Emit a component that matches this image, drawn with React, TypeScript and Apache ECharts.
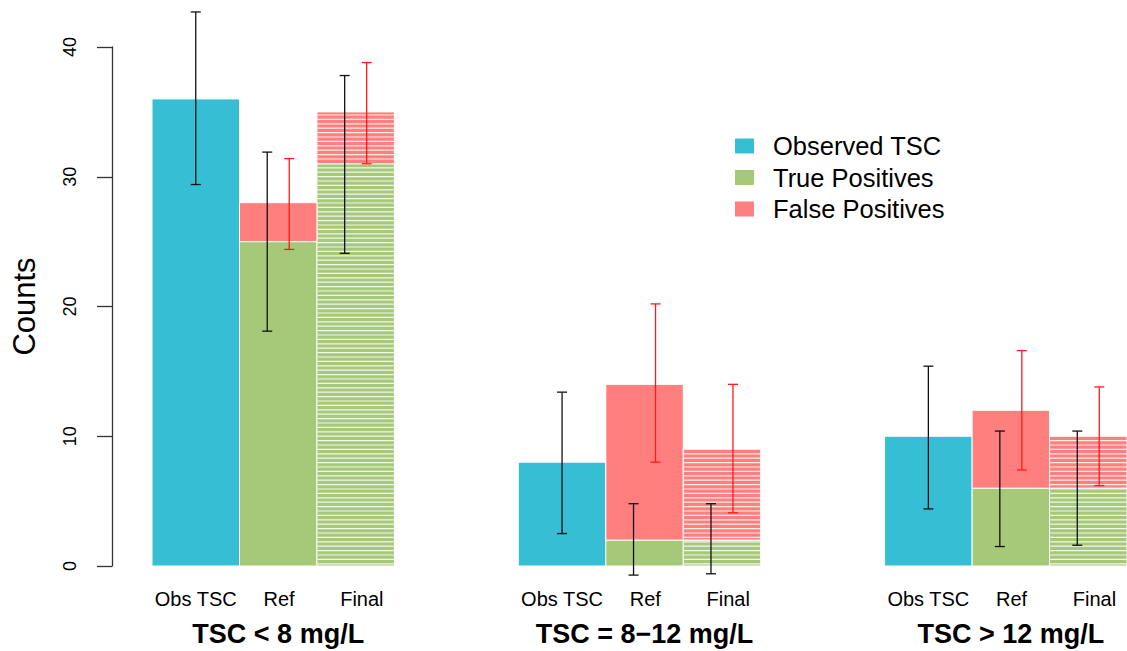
import React, { useEffect, useRef } from "react";
import * as echarts from "echarts";

// ---------- data ----------
const groupTitles = ["TSC < 8 mg/L", "TSC = 8\u221212 mg/L", "TSC > 12 mg/L"];
const barLabels = ["Obs TSC", "Ref", "Final"];
const yTicks = [0, 10, 20, 30, 40];

const observed = [36, 8, 10];
const observedLow = [29.4, 2.5, 4.4];
const observedHigh = [42.7, 13.4, 15.4];

const refTP = [25, 2, 6];
const refTotal = [28, 14, 12];
const finalTP = [31, 2, 6];
const finalTotal = [35, 9, 10];

const refTPLow = [18.1, -0.7, 1.5];
const refTPHigh = [31.9, 4.8, 10.4];
const refFPLow = [24.4, 8.0, 7.4];
const refFPHigh = [31.4, 20.2, 16.6];
const finalTPLow = [24.1, -0.6, 1.6];
const finalTPHigh = [37.8, 4.8, 10.4];
const finalFPLow = [31.0, 4.1, 6.2];
const finalFPHigh = [38.8, 14.0, 13.8];

// ---------- layout (in bar units) ----------
const OBS_W = 1.13;
const BAR_W = 1;
const GROUP_W = OBS_W + 2 * BAR_W;
const GAP = 1.6;
const X_MAX = 3 * GROUP_W + 2 * GAP;
const ERR_OFF = 0.142;
const LABEL_SHIFT = [0, 0.01, 0.08];

const C_OBS = "#35BED4";
const C_TP = "#A6C879";
const C_FP = "#FF7F7F";
const FONT = '"Liberation Sans", Arial, sans-serif';

function barStart(g: number, k: number) {
  return g * (GROUP_W + GAP) + (k === 0 ? 0 : OBS_W + (k - 1) * BAR_W);
}
function barWidth(k: number) {
  return k === 0 ? OBS_W : BAR_W;
}
function barCenter(g: number, k: number) {
  return barStart(g, k) + barWidth(k) / 2;
}

function hatch(x0: number, x1: number, yTop: number, yBot: number, yBase: number) {
  const out: any[] = [];
  for (let y = yBase - 2.2; y > yTop + 0.5; y -= 4.4) {
    if (y < yBot - 0.5) {
      out.push({
        type: "line",
        shape: { x1: x0 + 0.5, y1: y, x2: x1 - 0.5, y2: y },
        style: { stroke: "rgba(255,255,255,0.85)", lineWidth: 1.2 },
      });
    }
  }
  return out;
}

function segment(api: any, g: number, k: number, lo: number, hi: number, color: string) {
  const x0 = barStart(g, k);
  const w = barWidth(k);
  const pA = api.coord([x0, lo]);
  const pB = api.coord([x0 + w, hi]);
  const base = api.coord([0, 0])[1];
  const children: any[] = [
    {
      type: "rect",
      shape: { x: pA[0], y: pB[1], width: pB[0] - pA[0], height: pA[1] - pB[1] },
      style: { fill: color, stroke: "#ffffff", lineWidth: 1 },
    },
  ];
  if (k === 2) children.push(...hatch(pA[0], pB[0], pB[1], pA[1], base));
  return { type: "group", children };
}

export default function App() {
  const ref = useRef<HTMLDivElement>(null);

  useEffect(() => {
    if (!ref.current) return;
    const chart = echarts.init(ref.current, null, { renderer: "svg" });

    const obsData = observed.map((v, g) => [g, v]);
    const tpData: number[][] = [];
    const fpData: number[][] = [];
    for (let g = 0; g < 3; g++) {
      tpData.push([g, 1, refTP[g]]);
      tpData.push([g, 2, finalTP[g]]);
      fpData.push([g, 1, refTP[g], refTotal[g]]);
      fpData.push([g, 2, finalTP[g], finalTotal[g]]);
    }
    // [group, bar, side, low, high, colorKind]
    const errData: number[][] = [];
    for (let g = 0; g < 3; g++) {
      errData.push([g, 0, 0, observedLow[g], observedHigh[g], 0]);
      errData.push([g, 1, -1, refTPLow[g], refTPHigh[g], 0]);
      errData.push([g, 1, 1, refFPLow[g], refFPHigh[g], 1]);
      errData.push([g, 2, -1, finalTPLow[g], finalTPHigh[g], 0]);
      errData.push([g, 2, 1, finalFPLow[g], finalFPHigh[g], 1]);
    }

    const option: any = {
      animation: false,
      backgroundColor: "#ffffff",
      grid: { left: 152, right: 0, top: 47, bottom: 85 },
      legend: {
        orient: "vertical",
        left: 730,
        top: 128,
        itemWidth: 19,
        itemHeight: 15,
        itemGap: 5.5,
        icon: "rect",
        selectedMode: false,
        data: ["Observed TSC", "True Positives", "False Positives"],
        textStyle: {
          fontSize: 25.5,
          lineHeight: 25.5,
          fontFamily: FONT,
          color: "#000",
          padding: [0, 0, 0, 14],
        },
      },
      xAxis: { type: "value", min: 0, max: X_MAX, show: false },
      yAxis: {
        type: "value",
        min: 0,
        max: 40,
        interval: 10,
        offset: 40,
        name: "Counts",
        nameLocation: "middle",
        nameGap: 72,
        nameTextStyle: { fontSize: 31, fontFamily: FONT, color: "#000" },
        axisLine: { show: true, onZero: false, lineStyle: { color: "#333", width: 1.3 } },
        axisTick: { show: true, length: 15, lineStyle: { color: "#333", width: 1.3 } },
        axisLabel: {
          rotate: 90,
          fontSize: 18,
          margin: 33,
          fontFamily: FONT,
          color: "#000",
          formatter: (v: number) => (yTicks.includes(v) ? String(v) : ""),
        },
        splitLine: { show: false },
      },
      series: [
        {
          name: "Observed TSC",
          type: "custom",
          itemStyle: { color: C_OBS },
          data: obsData,
          renderItem: (params: any, api: any) =>
            segment(api, api.value(0), 0, 0, api.value(1), C_OBS),
        },
        {
          name: "True Positives",
          type: "custom",
          itemStyle: { color: C_TP },
          data: tpData,
          renderItem: (params: any, api: any) =>
            segment(api, api.value(0), api.value(1), 0, api.value(2), C_TP),
        },
        {
          name: "False Positives",
          type: "custom",
          itemStyle: { color: C_FP },
          data: fpData,
          renderItem: (params: any, api: any) =>
            segment(api, api.value(0), api.value(1), api.value(2), api.value(3), C_FP),
        },
        {
          name: "errors",
          type: "custom",
          data: errData,
          encode: { x: 0, y: 3 },
          renderItem: (params: any, api: any) => {
            const g = api.value(0);
            const k = api.value(1);
            const side = api.value(2);
            const x = barCenter(g, k) + side * ERR_OFF;
            const pL = api.coord([x, api.value(3)]);
            const pH = api.coord([x, api.value(4)]);
            const color = api.value(5) === 1 ? "#FF1a1a" : "#111111";
            const st = { stroke: color, lineWidth: 1.3 };
            return {
              type: "group",
              children: [
                { type: "line", shape: { x1: pL[0], y1: pL[1], x2: pH[0], y2: pH[1] }, style: st },
                { type: "line", shape: { x1: pL[0] - 5, y1: pL[1], x2: pL[0] + 5, y2: pL[1] }, style: st },
                { type: "line", shape: { x1: pH[0] - 5, y1: pH[1], x2: pH[0] + 5, y2: pH[1] }, style: st },
              ],
            };
          },
        },
        {
          name: "labels",
          type: "custom",
          data: groupTitles.map((_, g) => [g, 0]),
          renderItem: (params: any, api: any) => {
            const g = api.value(0);
            const base = api.coord([0, 0])[1];
            const children: any[] = barLabels.map((lab, k) => {
              const p = api.coord([barCenter(g, k) + LABEL_SHIFT[k], 0]);
              return {
                type: "text",
                x: p[0],
                y: base + 33,
                style: {
                  text: lab,
                  fill: "#000",
                  font: `20px ${FONT}`,
                  align: "center",
                  verticalAlign: "middle",
                },
              };
            });
            const pc = api.coord([barCenter(g, 1), 0]);
            children.push({
              type: "text",
              x: pc[0],
              y: base + 68,
              style: {
                text: groupTitles[g],
                fill: "#000",
                font: `bold 27px ${FONT}`,
                align: "center",
                verticalAlign: "middle",
              },
            });
            return { type: "group", children };
          },
        },
      ],
    };

    chart.setOption(option);
    return () => chart.dispose();
  }, []);

  return (
    <div
      ref={ref}
      style={{ position: "fixed", left: 0, top: 0, width: 1127, height: 651, background: "#fff" }}
    />
  );
}
